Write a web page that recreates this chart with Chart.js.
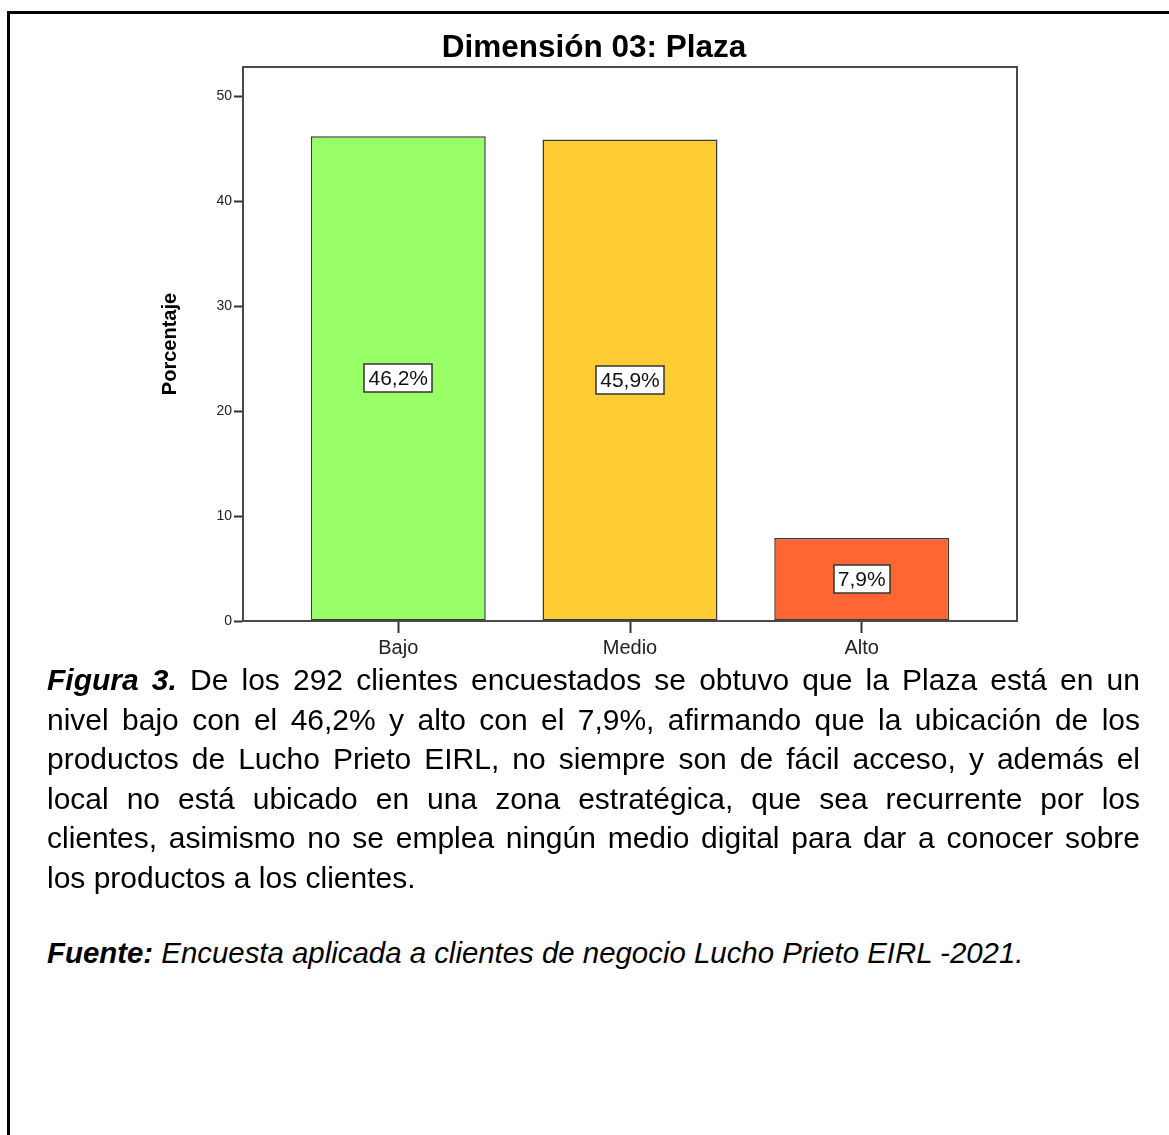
<!DOCTYPE html>
<html>
<head>
<meta charset="utf-8">
<script src="https://cdn.jsdelivr.net/npm/chart.js@4.4.1/dist/chart.umd.min.js"></script>
<style>
  html, body { margin: 0; padding: 0; background: #fff; width: 1169px; height: 1135px; overflow: hidden; }
  #frame { position: absolute; left: 7px; top: 11px; width: 1300px; height: 1300px; border: 3px solid #000; box-sizing: border-box; }
  #wrap { position: absolute; left: 150px; top: 20px; width: 889px; height: 641px; }
  #title { position: absolute; left: 294px; top: 27px; width: 600px; text-align: center; font-family: "Liberation Sans", Arial, sans-serif; font-size: 31.5px; font-weight: bold; color: #000; white-space: nowrap; line-height: 38px; }
  #caption { position: absolute; left: 47px; top: 660px; width: 1093px; font-family: "Liberation Sans", Arial, sans-serif; font-size: 30px; line-height: 39.5px; color: #000; }
  #caption .l { text-align: justify; text-align-last: justify; white-space: nowrap; }
  #caption .last { text-align: left; text-align-last: left; white-space: nowrap; }
  #fuente { position: absolute; left: 47px; top: 936px; font-family: "Liberation Sans", Arial, sans-serif; font-size: 29.4px; font-style: italic; color: #000; white-space: nowrap; }
</style>
</head>
<body>
<div id="frame"></div>
<div id="wrap"><canvas id="c"></canvas></div>
<div id="title"></div>
<div id="caption">
  <div class="l"><b><i>Figura 3.</i></b> De los 292 clientes encuestados se obtuvo que la Plaza está en un</div>
  <div class="l">nivel bajo con el 46,2% y alto con el 7,9%, afirmando que la ubicación de los</div>
  <div class="l">productos de Lucho Prieto EIRL, no siempre son de fácil acceso, y además el</div>
  <div class="l">local no está ubicado en una zona estratégica, que sea recurrente por los</div>
  <div class="l">clientes, asimismo no se emplea ningún medio digital para dar a conocer sobre</div>
  <div class="last">los productos a los clientes.</div>
</div>
<div id="fuente"><b>Fuente:</b> Encuesta aplicada a clientes de negocio Lucho Prieto EIRL -2021.</div>
<script>
const chartTitle = 'Dimensión 03: Plaza';
const categories = ['Bajo', 'Medio', 'Alto'];
const percentages = [46.2, 45.9, 7.9];
const valueLabels = ['46,2%', '45,9%', '7,9%'];
const barColors = ['#99FF66', '#FFCC33', '#FF6633'];
const yTicks = [0, 10, 20, 30, 40, 50];
const yAxisTitle = 'Porcentaje';

document.getElementById('title').textContent = chartTitle;

const frameAndLabels = {
  id: 'frameAndLabels',
  afterDatasetsDraw(chart) {
    const ctx = chart.ctx;
    const meta = chart.getDatasetMeta(0);
    ctx.save();
    ctx.font = '21px "Liberation Sans", Arial, sans-serif';
    ctx.textAlign = 'center';
    ctx.textBaseline = 'middle';
    meta.data.forEach((bar, i) => {
      const cx = bar.x;
      const cy = (bar.y + bar.base) / 2;
      const txt = valueLabels[i];
      const w = ctx.measureText(txt).width + 8;
      const h = 28;
      ctx.fillStyle = '#fff';
      ctx.fillRect(Math.round(cx - w / 2), Math.round(cy - h / 2), Math.round(w), h);
      ctx.strokeStyle = '#333';
      ctx.lineWidth = 1.5;
      ctx.strokeRect(Math.round(cx - w / 2), Math.round(cy - h / 2), Math.round(w), h);
      ctx.fillStyle = '#111';
      ctx.fillText(txt, cx, cy + 1);
    });
    const a = chart.chartArea;
    ctx.strokeStyle = '#4a4a4a';
    ctx.lineWidth = 2;
    ctx.strokeRect(a.left, a.top, a.right - a.left, a.bottom - a.top);
    ctx.restore();
  }
};

new Chart(document.getElementById('c'), {
  type: 'bar',
  data: {
    datasets: [{
      data: percentages.map((v, i) => ({ x: i, y: v })),
      backgroundColor: barColors,
      borderColor: '#3a3a3a',
      borderWidth: 1.5,
      borderSkipped: false,
      categoryPercentage: 1,
      barPercentage: 0.755
    }]
  },
  options: {
    responsive: true,
    maintainAspectRatio: false,
    animation: false,
    layout: { padding: { left: 0, right: 22, top: 47, bottom: 0 } },
    plugins: {
      legend: { display: false },
      tooltip: { enabled: false },
      title: { display: false }
    },
    scales: {
      x: {
        type: 'linear',
        offset: false,
        min: -0.67,
        max: 2.67,
        afterBuildTicks: (s) => { s.ticks = categories.map((c, i) => ({ value: i })); },
        afterFit: (s) => { s.height = 40; },
        ticks: {
          callback: (v) => categories[v],
          color: '#222',
          font: { family: '"Liberation Sans", Arial, sans-serif', size: 20 },
          padding: 3,
          maxRotation: 0,
          autoSkip: false
        },
        grid: { offset: false, drawOnChartArea: false, drawTicks: true, tickLength: 12, tickColor: '#333', tickWidth: 2 },
        border: { display: true, color: '#4a4a4a', width: 2 }
      },
      y: {
        min: 0,
        max: 52.8,
        afterBuildTicks: (s) => { s.ticks = yTicks.map(v => ({ value: v })); },
        afterFit: (s) => { s.width = 93; },
        ticks: {
          color: '#222',
          font: { family: '"Liberation Sans", Arial, sans-serif', size: 14 },
          padding: 2
        },
        grid: { drawOnChartArea: false, drawTicks: true, tickLength: 9, tickColor: '#333', tickWidth: 2 },
        border: { display: true, color: '#4a4a4a', width: 2 },
        title: {
          display: true,
          text: yAxisTitle,
          color: '#000',
          font: { family: '"Liberation Sans", Arial, sans-serif', size: 20, weight: 'bold' },
          padding: { top: 8, bottom: 0 }
        }
      }
    }
  },
  plugins: [frameAndLabels]
});
</script>
</body>
</html>
